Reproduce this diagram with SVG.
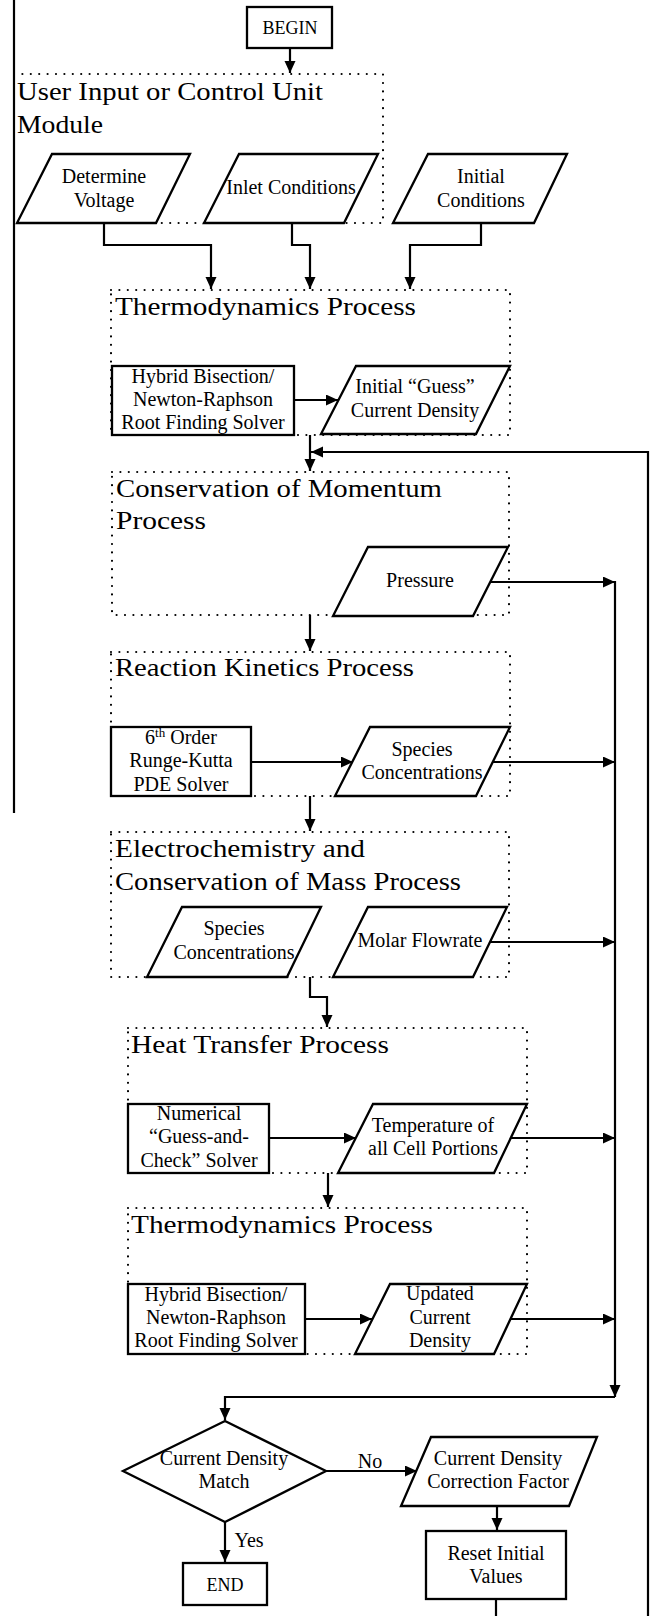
<svg xmlns="http://www.w3.org/2000/svg" width="653" height="1616" viewBox="0 0 653 1616">
<defs>
<marker id="ah" markerUnits="userSpaceOnUse" markerWidth="13" markerHeight="12" refX="12" refY="5.5" orient="auto">
<path d="M0,0 L12,5.5 L0,11 z" fill="#000"/>
</marker>
<style>
.dot{fill:none;stroke:#000;stroke-width:2.2;stroke-dasharray:0 8.4;stroke-linecap:round}
.nd{fill:#fff;stroke:#000;stroke-width:2.3}
.ln{fill:none;stroke:#000;stroke-width:2.2}
.ar{fill:none;stroke:#000;stroke-width:2.2;marker-end:url(#ah)}
text{font-family:"Liberation Serif","Times New Roman",serif;fill:#000}
.t{font-size:20px;text-anchor:middle}
.s{font-size:18px;text-anchor:middle}
.h{font-size:26px}
</style>
</defs>
<rect width="653" height="1616" fill="#fff"/>

<g id="frames">
<rect class="dot" x="14" y="74" width="369" height="149"/>
<rect class="dot" x="111" y="290" width="399" height="145"/>
<rect class="dot" x="112" y="472" width="397" height="143"/>
<rect class="dot" x="111" y="652" width="399" height="144"/>
<rect class="dot" x="111" y="832" width="398" height="145"/>
<rect class="dot" x="128" y="1028" width="399" height="145"/>
<rect class="dot" x="128" y="1208" width="399" height="146"/>
</g>

<g id="titles">
<text class="h" x="17" y="100" textLength="306" lengthAdjust="spacingAndGlyphs">User Input or Control Unit</text>
<text class="h" x="17" y="133" textLength="86" lengthAdjust="spacingAndGlyphs">Module</text>
<text class="h" x="115" y="315" textLength="301" lengthAdjust="spacingAndGlyphs">Thermodynamics Process</text>
<text class="h" x="116" y="497" textLength="326" lengthAdjust="spacingAndGlyphs">Conservation of Momentum</text>
<text class="h" x="116" y="529" textLength="90" lengthAdjust="spacingAndGlyphs">Process</text>
<text class="h" x="115" y="676" textLength="299" lengthAdjust="spacingAndGlyphs">Reaction Kinetics Process</text>
<text class="h" x="115" y="857" textLength="250" lengthAdjust="spacingAndGlyphs">Electrochemistry and</text>
<text class="h" x="115" y="890" textLength="346" lengthAdjust="spacingAndGlyphs">Conservation of Mass Process</text>
<text class="h" x="131" y="1053" textLength="258" lengthAdjust="spacingAndGlyphs">Heat Transfer Process</text>
<text class="h" x="131" y="1233" textLength="302" lengthAdjust="spacingAndGlyphs">Thermodynamics Process</text>
</g>

<g id="side-line">
<line class="ln" x1="14" y1="0" x2="14" y2="813"/>
</g>

<g id="connectors">
<path class="ar" d="M290 48 V73"/>
<path class="ar" d="M104 223 V245 H211 V289"/>
<path class="ar" d="M292 223 V245 H310 V289"/>
<path class="ar" d="M481 223 V245 H410 V289"/>
<path class="ar" d="M294 400 H338"/>
<path class="ar" d="M310 435 V471"/>
<path class="ln" d="M496 1599 V1616"/>
<path class="ar" d="M648 1616 V452 H311"/>
<path class="ar" d="M490 582 H615"/>
<path class="ar" d="M310 615 V651"/>
<path class="ar" d="M251 762 H353"/>
<path class="ar" d="M493 762 H615"/>
<path class="ar" d="M310 796 V831"/>
<path class="ar" d="M489 942 H615"/>
<path class="ar" d="M310 977 V997 H327 V1027"/>
<path class="ar" d="M269 1138 H356"/>
<path class="ar" d="M510 1138 H615"/>
<path class="ar" d="M328 1173 V1207"/>
<path class="ar" d="M305 1319 H372"/>
<path class="ar" d="M510 1319 H615"/>
<path class="ar" d="M615 581 V1397"/>
<path class="ar" d="M615 1397 H225 V1420"/>
<path class="ar" d="M326 1471 H417"/>
<path class="ar" d="M497 1506 V1530"/>
<path class="ar" d="M225 1522 V1562"/>
<text class="t" x="370" y="1468">No</text>
<text class="t" x="249" y="1547">Yes</text>
</g>

<g id="begin">
<rect class="nd" x="247" y="7" width="85" height="41"/>
<text class="s" x="290" y="34">BEGIN</text>
</g>

<g id="determine-voltage">
<polygon class="nd" points="52,154 190,154 156,223 17,223"/>
<text class="t" x="104" y="183">Determine</text>
<text class="t" x="104" y="207">Voltage</text>
</g>

<g id="inlet-conditions">
<polygon class="nd" points="239,154 378,154 344,223 204,223"/>
<text class="t" x="291" y="194">Inlet Conditions</text>
</g>

<g id="initial-conditions">
<polygon class="nd" points="428,154 567,154 534,223 393,223"/>
<text class="t" x="481" y="183">Initial</text>
<text class="t" x="481" y="207">Conditions</text>
</g>

<g id="hybrid-1">
<rect class="nd" x="112" y="366" width="182" height="69"/>
<text class="t" x="203" y="383">Hybrid Bisection/</text>
<text class="t" x="203" y="406">Newton-Raphson</text>
<text class="t" x="203" y="429">Root Finding Solver</text>
</g>

<g id="initial-guess">
<polygon class="nd" points="356,366 510,366 476,434 321,434"/>
<text class="t" x="415" y="393">Initial “Guess”</text>
<text class="t" x="415" y="417">Current Density</text>
</g>

<g id="pressure">
<polygon class="nd" points="368,547 508,547 473,616 333,616"/>
<text class="t" x="420" y="587">Pressure</text>
</g>

<g id="rk-solver">
<rect class="nd" x="111" y="727" width="140" height="69"/>
<text class="t" x="181" y="744">6<tspan font-size="13" dy="-7">th</tspan><tspan dy="7"> Order</tspan></text>
<text class="t" x="181" y="767">Runge-Kutta</text>
<text class="t" x="181" y="791">PDE Solver</text>
</g>

<g id="species-1">
<polygon class="nd" points="370,727 510,727 476,796 335,796"/>
<text class="t" x="422" y="756">Species</text>
<text class="t" x="422" y="779">Concentrations</text>
</g>

<g id="species-2">
<polygon class="nd" points="182,907 321,907 287,977 147,977"/>
<text class="t" x="234" y="935">Species</text>
<text class="t" x="234" y="959">Concentrations</text>
</g>

<g id="molar-flowrate">
<polygon class="nd" points="368,907 507,907 473,977 333,977"/>
<text class="t" x="420" y="947">Molar Flowrate</text>
</g>

<g id="numerical-solver">
<rect class="nd" x="128" y="1104" width="141" height="69"/>
<text class="t" x="199" y="1120">Numerical</text>
<text class="t" x="199" y="1143">“Guess-and-</text>
<text class="t" x="199" y="1167">Check” Solver</text>
</g>

<g id="temperature">
<polygon class="nd" points="373,1104 527,1104 494,1173 338,1173"/>
<text class="t" x="433" y="1132">Temperature of</text>
<text class="t" x="433" y="1155">all Cell Portions</text>
</g>

<g id="hybrid-2">
<rect class="nd" x="128" y="1284" width="177" height="70"/>
<text class="t" x="216" y="1301">Hybrid Bisection/</text>
<text class="t" x="216" y="1324">Newton-Raphson</text>
<text class="t" x="216" y="1347">Root Finding Solver</text>
</g>

<g id="updated-density">
<polygon class="nd" points="390,1284 527,1284 494,1354 355,1354"/>
<text class="t" x="440" y="1300">Updated</text>
<text class="t" x="440" y="1324">Current</text>
<text class="t" x="440" y="1347">Density</text>
</g>

<g id="match-decision">
<polygon class="nd" points="225,1421 326,1471 225,1522 123,1471"/>
<text class="t" x="224" y="1465">Current Density</text>
<text class="t" x="224" y="1488">Match</text>
</g>

<g id="correction-factor">
<polygon class="nd" points="431,1437 597,1437 569,1506 401,1506"/>
<text class="t" x="498" y="1465">Current Density</text>
<text class="t" x="498" y="1488">Correction Factor</text>
</g>

<g id="reset">
<rect class="nd" x="426" y="1531" width="140" height="68"/>
<text class="t" x="496" y="1560">Reset Initial</text>
<text class="t" x="496" y="1583">Values</text>
</g>

<g id="end">
<rect class="nd" x="183" y="1563" width="84" height="42"/>
<text class="s" x="225" y="1591">END</text>
</g>
</svg>
